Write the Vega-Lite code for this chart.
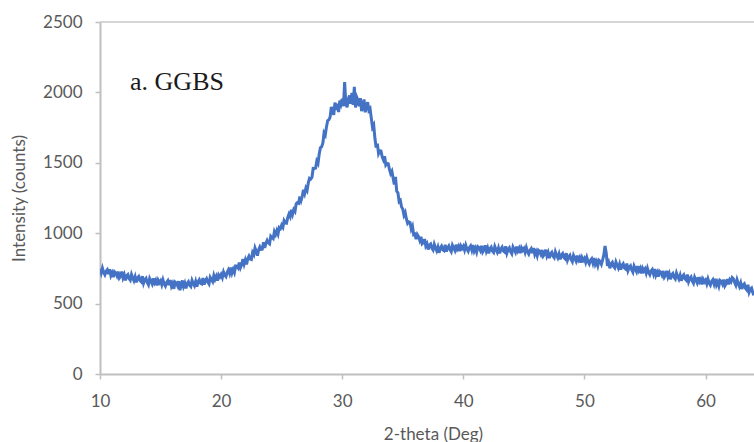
{
"$schema": "https://vega.github.io/schema/vega-lite/v6.json",
"width": 654, "height": 352,
"autosize": {"type": "none"},
"padding": {"left": 100, "top": 22, "right": 0, "bottom": 68},
"background": "white",
"config": {"view": {"stroke": null}},
"data": {"values": [
{"t":10.0,"c":747},{"t":10.1,"c":718},{"t":10.2,"c":751},{"t":10.3,"c":721},{"t":10.4,"c":705},{"t":10.5,"c":730},{"t":10.6,"c":741},{"t":10.7,"c":709},{"t":10.8,"c":744},{"t":10.9,"c":699},
{"t":11.0,"c":718},{"t":11.1,"c":688},{"t":11.2,"c":726},{"t":11.3,"c":717},{"t":11.4,"c":697},{"t":11.5,"c":727},{"t":11.6,"c":683},{"t":11.7,"c":696},{"t":11.8,"c":727},{"t":11.9,"c":683},
{"t":12.0,"c":705},{"t":12.1,"c":665},{"t":12.2,"c":697},{"t":12.3,"c":706},{"t":12.4,"c":678},{"t":12.5,"c":666},{"t":12.6,"c":707},{"t":12.7,"c":683},{"t":12.8,"c":663},{"t":12.9,"c":690},
{"t":13.0,"c":651},{"t":13.1,"c":683},{"t":13.2,"c":693},{"t":13.3,"c":665},{"t":13.4,"c":656},{"t":13.5,"c":695},{"t":13.6,"c":645},{"t":13.7,"c":669},{"t":13.8,"c":679},{"t":13.9,"c":651},
{"t":14.0,"c":634},{"t":14.1,"c":678},{"t":14.2,"c":659},{"t":14.3,"c":640},{"t":14.4,"c":679},{"t":14.5,"c":648},{"t":14.6,"c":665},{"t":14.7,"c":630},{"t":14.8,"c":666},{"t":14.9,"c":648},
{"t":15.0,"c":662},{"t":15.1,"c":634},{"t":15.2,"c":668},{"t":15.3,"c":639},{"t":15.4,"c":624},{"t":15.5,"c":650},{"t":15.6,"c":662},{"t":15.7,"c":631},{"t":15.8,"c":667},{"t":15.9,"c":623},
{"t":16.0,"c":643},{"t":16.1,"c":605},{"t":16.2,"c":654},{"t":16.3,"c":647},{"t":16.4,"c":628},{"t":16.5,"c":660},{"t":16.6,"c":595},{"t":16.7,"c":632},{"t":16.8,"c":664},{"t":16.9,"c":622},
{"t":17.0,"c":645},{"t":17.1,"c":608},{"t":17.2,"c":643},{"t":17.3,"c":655},{"t":17.4,"c":630},{"t":17.5,"c":621},{"t":17.6,"c":665},{"t":17.7,"c":644},{"t":17.8,"c":627},{"t":17.9,"c":657},
{"t":18.0,"c":621},{"t":18.1,"c":656},{"t":18.2,"c":670},{"t":18.3,"c":645},{"t":18.4,"c":640},{"t":18.5,"c":682},{"t":18.6,"c":636},{"t":18.7,"c":663},{"t":18.8,"c":677},{"t":18.9,"c":652},
{"t":19.0,"c":639},{"t":19.1,"c":687},{"t":19.2,"c":672},{"t":19.3,"c":657},{"t":19.4,"c":700},{"t":19.5,"c":673},{"t":19.6,"c":694},{"t":19.7,"c":663},{"t":19.8,"c":703},{"t":19.9,"c":689},
{"t":20.0,"c":707},{"t":20.1,"c":685},{"t":20.2,"c":724},{"t":20.3,"c":701},{"t":20.4,"c":691},{"t":20.5,"c":723},{"t":20.6,"c":740},{"t":20.7,"c":715},{"t":20.8,"c":756},{"t":20.9,"c":718},
{"t":21.0,"c":743},{"t":21.1,"c":721},{"t":21.2,"c":767},{"t":21.3,"c":766},{"t":21.4,"c":754},{"t":21.5,"c":792},{"t":21.6,"c":756},{"t":21.7,"c":777},{"t":21.8,"c":816},{"t":21.9,"c":780},
{"t":22.0,"c":810},{"t":22.1,"c":779},{"t":22.2,"c":819},{"t":22.3,"c":837},{"t":22.4,"c":817},{"t":22.5,"c":814},{"t":22.6,"c":863},{"t":22.7,"c":848},{"t":22.8,"c":895},{"t":22.9,"c":872},
{"t":23.0,"c":841},{"t":23.1,"c":883},{"t":23.2,"c":903},{"t":23.3,"c":885},{"t":23.4,"c":886},{"t":23.5,"c":935},{"t":23.6,"c":895},{"t":23.7,"c":929},{"t":23.8,"c":949},{"t":23.9,"c":931},
{"t":24.0,"c":924},{"t":24.1,"c":979},{"t":24.2,"c":970},{"t":24.3,"c":962},{"t":24.4,"c":1011},{"t":24.5,"c":991},{"t":24.6,"c":1018},{"t":24.7,"c":994},{"t":24.8,"c":1040},{"t":24.9,"c":1033},
{"t":25.0,"c":1057},{"t":25.1,"c":1042},{"t":25.2,"c":1089},{"t":25.3,"c":1073},{"t":25.4,"c":1071},{"t":25.5,"c":1110},{"t":25.6,"c":1135},{"t":25.7,"c":1117},{"t":25.8,"c":1166},{"t":25.9,"c":1135},
{"t":26.0,"c":1168},{"t":26.1,"c":1155},{"t":26.2,"c":1209},{"t":26.3,"c":1217},{"t":26.4,"c":1213},{"t":26.5,"c":1260},{"t":26.6,"c":1232},{"t":26.7,"c":1262},{"t":26.8,"c":1309},{"t":26.9,"c":1282},
{"t":27.0,"c":1320},{"t":27.1,"c":1303},{"t":27.2,"c":1358},{"t":27.3,"c":1390},{"t":27.4,"c":1385},{"t":27.5,"c":1396},{"t":27.6,"c":1460},{"t":27.7,"c":1459},{"t":27.8,"c":1462},{"t":27.9,"c":1512},
{"t":28.0,"c":1496},{"t":28.1,"c":1562},{"t":28.2,"c":1607},{"t":28.3,"c":1613},{"t":28.4,"c":1639},{"t":28.5,"c":1712},{"t":28.6,"c":1697},{"t":28.7,"c":1755},{"t":28.8,"c":1800},{"t":28.9,"c":1806},
{"t":29.0,"c":1824},{"t":29.1,"c":1896},{"t":29.2,"c":1868},{"t":29.3,"c":1840},{"t":29.4,"c":1928},{"t":29.5,"c":1876},{"t":29.6,"c":1920},{"t":29.7,"c":1860},{"t":29.8,"c":1942},{"t":29.9,"c":1916},
{"t":30.0,"c":1954},{"t":30.1,"c":1902},{"t":30.2,"c":2074},{"t":30.3,"c":1920},{"t":30.4,"c":1894},{"t":30.5,"c":1950},{"t":30.6,"c":1978},{"t":30.7,"c":1920},{"t":30.8,"c":1996},{"t":30.9,"c":1912},
{"t":31.0,"c":2040},{"t":31.1,"c":1893},{"t":31.2,"c":1966},{"t":31.3,"c":1945},{"t":31.4,"c":1902},{"t":31.5,"c":1959},{"t":31.6,"c":1868},{"t":31.7,"c":1891},{"t":31.8,"c":1950},{"t":31.9,"c":1859},
{"t":32.0,"c":1900},{"t":32.1,"c":1930},{"t":32.2,"c":1872},{"t":32.3,"c":1884},{"t":32.4,"c":1817},{"t":32.5,"c":1752},{"t":32.6,"c":1768},{"t":32.7,"c":1674},{"t":32.8,"c":1608},{"t":32.9,"c":1636},
{"t":33.0,"c":1566},{"t":33.1,"c":1585},{"t":33.2,"c":1583},{"t":33.3,"c":1542},{"t":33.4,"c":1521},{"t":33.5,"c":1547},{"t":33.6,"c":1485},{"t":33.7,"c":1496},{"t":33.8,"c":1494},{"t":33.9,"c":1453},
{"t":34.0,"c":1424},{"t":34.1,"c":1440},{"t":34.2,"c":1393},{"t":34.3,"c":1346},{"t":34.4,"c":1400},{"t":34.5,"c":1298},{"t":34.6,"c":1287},{"t":34.7,"c":1224},{"t":34.8,"c":1232},{"t":34.9,"c":1186},
{"t":35.0,"c":1172},{"t":35.1,"c":1128},{"t":35.2,"c":1146},{"t":35.3,"c":1101},{"t":35.4,"c":1070},{"t":35.5,"c":1080},{"t":35.6,"c":1076},{"t":35.7,"c":1029},{"t":35.8,"c":1049},{"t":35.9,"c":989},
{"t":36.0,"c":993},{"t":36.1,"c":958},{"t":36.2,"c":990},{"t":36.3,"c":976},{"t":36.4,"c":950},{"t":36.5,"c":975},{"t":36.6,"c":925},{"t":36.7,"c":933},{"t":36.8,"c":958},{"t":36.9,"c":909},
{"t":37.0,"c":925},{"t":37.1,"c":884},{"t":37.2,"c":915},{"t":37.3,"c":923},{"t":37.4,"c":894},{"t":37.5,"c":881},{"t":37.6,"c":921},{"t":37.7,"c":896},{"t":37.8,"c":875},{"t":37.9,"c":901},
{"t":38.0,"c":861},{"t":38.1,"c":895},{"t":38.2,"c":908},{"t":38.3,"c":882},{"t":38.4,"c":876},{"t":38.5,"c":917},{"t":38.6,"c":870},{"t":38.7,"c":896},{"t":38.8,"c":909},{"t":38.9,"c":883},
{"t":39.0,"c":869},{"t":39.1,"c":914},{"t":39.2,"c":896},{"t":39.3,"c":878},{"t":39.4,"c":918},{"t":39.5,"c":888},{"t":39.6,"c":906},{"t":39.7,"c":872},{"t":39.8,"c":909},{"t":39.9,"c":892},
{"t":40.0,"c":907},{"t":40.1,"c":880},{"t":40.2,"c":914},{"t":40.3,"c":886},{"t":40.4,"c":871},{"t":40.5,"c":898},{"t":40.6,"c":910},{"t":40.7,"c":880},{"t":40.8,"c":916},{"t":40.9,"c":873},
{"t":41.0,"c":893},{"t":41.1,"c":865},{"t":41.2,"c":904},{"t":41.3,"c":897},{"t":41.4,"c":878},{"t":41.5,"c":910},{"t":41.6,"c":867},{"t":41.7,"c":882},{"t":41.8,"c":914},{"t":41.9,"c":872},
{"t":42.0,"c":895},{"t":42.1,"c":857},{"t":42.2,"c":890},{"t":42.3,"c":901},{"t":42.4,"c":874},{"t":42.5,"c":864},{"t":42.6,"c":906},{"t":42.7,"c":884},{"t":42.8,"c":865},{"t":42.9,"c":894},
{"t":43.0,"c":856},{"t":43.1,"c":889},{"t":43.2,"c":901},{"t":43.3,"c":874},{"t":43.4,"c":867},{"t":43.5,"c":907},{"t":43.6,"c":859},{"t":43.7,"c":884},{"t":43.8,"c":896},{"t":43.9,"c":869},
{"t":44.0,"c":854},{"t":44.1,"c":901},{"t":44.2,"c":883},{"t":44.3,"c":865},{"t":44.4,"c":905},{"t":44.5,"c":875},{"t":44.6,"c":893},{"t":44.7,"c":859},{"t":44.8,"c":896},{"t":44.9,"c":879},
{"t":45.0,"c":892},{"t":45.1,"c":864},{"t":45.2,"c":897},{"t":45.3,"c":868},{"t":45.4,"c":852},{"t":45.5,"c":878},{"t":45.6,"c":890},{"t":45.7,"c":858},{"t":45.8,"c":894},{"t":45.9,"c":849},
{"t":46.0,"c":869},{"t":46.1,"c":840},{"t":46.2,"c":878},{"t":46.3,"c":870},{"t":46.4,"c":850},{"t":46.5,"c":881},{"t":46.6,"c":838},{"t":46.7,"c":851},{"t":46.8,"c":883},{"t":46.9,"c":839},
{"t":47.0,"c":862},{"t":47.1,"c":823},{"t":47.2,"c":855},{"t":47.3,"c":865},{"t":47.4,"c":837},{"t":47.5,"c":826},{"t":47.6,"c":868},{"t":47.7,"c":844},{"t":47.8,"c":825},{"t":47.9,"c":852},
{"t":48.0,"c":814},{"t":48.1,"c":846},{"t":48.2,"c":856},{"t":48.3,"c":828},{"t":48.4,"c":819},{"t":48.5,"c":858},{"t":48.6,"c":809},{"t":48.7,"c":832},{"t":48.8,"c":843},{"t":48.9,"c":814},
{"t":49.0,"c":798},{"t":49.1,"c":842},{"t":49.2,"c":822},{"t":49.3,"c":803},{"t":49.4,"c":841},{"t":49.5,"c":810},{"t":49.6,"c":827},{"t":49.7,"c":791},{"t":49.8,"c":827},{"t":49.9,"c":808},
{"t":50.0,"c":822},{"t":50.1,"c":794},{"t":50.2,"c":827},{"t":50.3,"c":798},{"t":50.4,"c":782},{"t":50.5,"c":808},{"t":50.6,"c":819},{"t":50.7,"c":788},{"t":50.8,"c":823},{"t":50.9,"c":779},
{"t":51.0,"c":798},{"t":51.1,"c":769},{"t":51.2,"c":807},{"t":51.3,"c":799},{"t":51.4,"c":779},{"t":51.5,"c":810},{"t":51.6,"c":846},{"t":51.7,"c":910},{"t":51.8,"c":858},{"t":51.9,"c":768},
{"t":52.0,"c":790},{"t":52.1,"c":751},{"t":52.2,"c":783},{"t":52.3,"c":793},{"t":52.4,"c":765},{"t":52.5,"c":754},{"t":52.6,"c":795},{"t":52.7,"c":772},{"t":52.8,"c":752},{"t":52.9,"c":780},
{"t":53.0,"c":741},{"t":53.1,"c":772},{"t":53.2,"c":783},{"t":53.3,"c":754},{"t":53.4,"c":746},{"t":53.5,"c":784},{"t":53.6,"c":735},{"t":53.7,"c":758},{"t":53.8,"c":768},{"t":53.9,"c":740},
{"t":54.0,"c":723},{"t":54.1,"c":767},{"t":54.2,"c":747},{"t":54.3,"c":728},{"t":54.4,"c":766},{"t":54.5,"c":734},{"t":54.6,"c":751},{"t":54.7,"c":715},{"t":54.8,"c":751},{"t":54.9,"c":732},
{"t":55.0,"c":746},{"t":55.1,"c":717},{"t":55.2,"c":750},{"t":55.3,"c":721},{"t":55.4,"c":705},{"t":55.5,"c":731},{"t":55.6,"c":742},{"t":55.7,"c":711},{"t":55.8,"c":746},{"t":55.9,"c":701},
{"t":56.0,"c":721},{"t":56.1,"c":691},{"t":56.2,"c":730},{"t":56.3,"c":721},{"t":56.4,"c":702},{"t":56.5,"c":732},{"t":56.6,"c":688},{"t":56.7,"c":702},{"t":56.8,"c":733},{"t":56.9,"c":690},
{"t":57.0,"c":712},{"t":57.1,"c":673},{"t":57.2,"c":705},{"t":57.3,"c":714},{"t":57.4,"c":687},{"t":57.5,"c":675},{"t":57.6,"c":717},{"t":57.7,"c":693},{"t":57.8,"c":674},{"t":57.9,"c":701},
{"t":58.0,"c":662},{"t":58.1,"c":694},{"t":58.2,"c":704},{"t":58.3,"c":676},{"t":58.4,"c":667},{"t":58.5,"c":706},{"t":58.6,"c":656},{"t":58.7,"c":679},{"t":58.8,"c":690},{"t":58.9,"c":661},
{"t":59.0,"c":645},{"t":59.1,"c":688},{"t":59.2,"c":669},{"t":59.3,"c":649},{"t":59.4,"c":687},{"t":59.5,"c":656},{"t":59.6,"c":672},{"t":59.7,"c":637},{"t":59.8,"c":672},{"t":59.9,"c":654},
{"t":60.0,"c":667},{"t":60.1,"c":640},{"t":60.2,"c":674},{"t":60.3,"c":646},{"t":60.4,"c":631},{"t":60.5,"c":658},{"t":60.6,"c":670},{"t":60.7,"c":640},{"t":60.8,"c":676},{"t":60.9,"c":633},
{"t":61.0,"c":653},{"t":61.1,"c":625},{"t":61.2,"c":664},{"t":61.3,"c":657},{"t":61.4,"c":638},{"t":61.5,"c":670},{"t":61.6,"c":627},{"t":61.7,"c":642},{"t":61.8,"c":674},{"t":61.9,"c":636},
{"t":62.0,"c":668},{"t":62.1,"c":655},{"t":62.2,"c":685},{"t":62.3,"c":676},{"t":62.4,"c":651},{"t":62.5,"c":631},{"t":62.6,"c":670},{"t":62.7,"c":643},{"t":62.8,"c":621},{"t":62.9,"c":646},
{"t":63.0,"c":604},{"t":63.1,"c":633},{"t":63.2,"c":641},{"t":63.3,"c":609},{"t":63.4,"c":598},{"t":63.5,"c":634},{"t":63.6,"c":581},{"t":63.7,"c":602},{"t":63.8,"c":610},{"t":63.9,"c":578},
{"t":64.0,"c":559}
]},
"layer": [
{
"data": {"values": [{}]},
"mark": {"type": "rule", "color": "#c8c8c8", "strokeWidth": 1.5},
"encoding": {"y": {"datum": 2500, "type": "quantitative", "scale": {"domain": [0, 2500], "nice": false}}}
},
{
"mark": {"type": "line", "color": "#4472C4", "strokeWidth": 3, "clip": true},
"encoding": {
"x": {"field": "t", "type": "quantitative",
"scale": {"domain": [10, 64], "nice": false, "zero": false},
"axis": {"title": "2-theta (Deg)", "values": [10, 20, 30, 40, 50, 60], "format": "d", "grid": false, "labelFlush": false,
"domainColor": "#bfbfbf", "domainWidth": 2, "tickColor": "#bfbfbf", "tickWidth": 1.5, "tickSize": 5,
"labelFont": "Lato", "labelFontSize": 17, "labelColor": "#595959", "labelPadding": 14,
"titleFont": "Lato", "titleFontSize": 17, "titleFontWeight": "normal", "titleColor": "#595959",
"titleX": 333, "titleY": 60, "titleBaseline": "middle", "titleAlign": "center"}},
"y": {"field": "c", "type": "quantitative",
"scale": {"domain": [0, 2500], "nice": false},
"axis": {"title": "Intensity (counts)", "values": [0, 500, 1000, 1500, 2000, 2500], "format": "d", "grid": false, "labelFlush": false,
"domainColor": "#bfbfbf", "domainWidth": 2, "tickColor": "#bfbfbf", "tickWidth": 1.5, "tickSize": 5,
"labelFont": "Lato", "labelFontSize": 17, "labelColor": "#595959", "labelPadding": 13,
"titleFont": "Lato", "titleFontSize": 17, "titleFontWeight": "normal", "titleColor": "#595959",
"titleX": -81, "titleY": 176, "titleAngle": -90, "titleBaseline": "middle", "titleAlign": "center"}}
}
},
{
"data": {"values": [{}]},
"mark": {"type": "text", "align": "left", "baseline": "middle", "font": "Liberation Serif", "fontSize": 26, "color": "#1a1a1a"},
"encoding": {
"x": {"datum": 12.48, "type": "quantitative"},
"y": {"datum": 2074, "type": "quantitative"},
"text": {"value": "a. GGBS"}
}
}
]
}
